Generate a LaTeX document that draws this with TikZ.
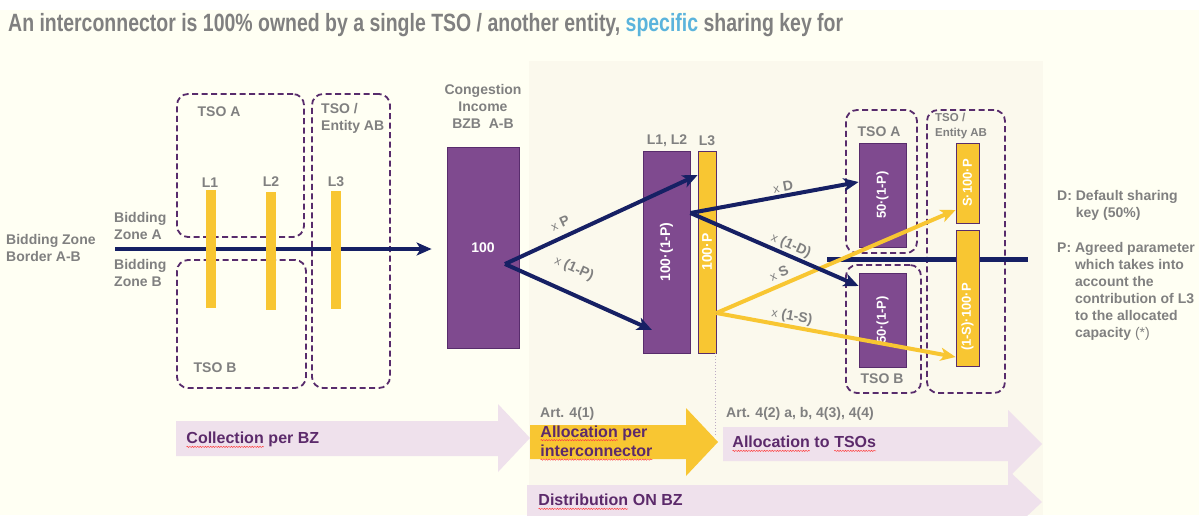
\documentclass[tikz,border=0pt]{standalone}
\usepackage{fontspec}
\setmainfont{Liberation Sans}
\usepackage{graphicx}
\usetikzlibrary{arrows.meta,decorations.pathmorphing}
\definecolor{nvblue}{RGB}{22,32,100}
\definecolor{ppfill}{RGB}{127,74,143}
\definecolor{ppdark}{RGB}{88,44,108}
\definecolor{yyel}{RGB}{248,198,50}
\definecolor{gtxt}{RGB}{128,128,128}
\definecolor{lvarrow}{RGB}{239,225,236}
\definecolor{pptxt}{RGB}{92,42,107}
\definecolor{cybl}{RGB}{91,180,220}
\definecolor{crbg}{RGB}{255,255,243}
\definecolor{pnbg}{RGB}{251,249,237}
\newcommand\spchk[1]{\tikz[baseline=(w.base)]{\node[inner sep=0pt, outer sep=0pt, font=, anchor=base] (w) {#1};
  \draw[red!75, line width=0.5pt, decorate, decoration={snake, amplitude=0.6pt, segment length=2.6pt}] ([yshift=-3pt]w.base west) -- ([yshift=-3pt]w.base east);}}
\tikzset{
  lbl/.style={text=gtxt, inner sep=0pt},
  tsobox/.style={draw=ppdark, line width=1.8pt, dash pattern=on 6pt off 3.5pt, rounded corners=11pt, inner sep=0pt},
  ppbox/.style={fill=ppfill, draw=ppdark, line width=0.8pt, inner sep=0pt, text=white},
  ybox/.style={fill=yyel, draw=ppdark, line width=0.8pt, inner sep=0pt, text=white},
  lbar/.style={fill=yyel, inner sep=0pt, minimum width=10, minimum height=118},
  nflow/.style={draw=nvblue, line width=4pt, -{Stealth[length=15pt,width=13pt,inset=4pt]}},
  yflow/.style={draw=yyel, line width=4pt, -{Stealth[length=15pt,width=13pt,inset=4pt]}},
  steptxt/.style={text=pptxt, inner sep=0pt, anchor=west, align=left, font=\fontsize{16}{19.5}\selectfont\bfseries}
}

\begin{document}
\begin{tikzpicture}[line cap=butt,line join=miter,x=1pt,y=-1pt,font=\fontsize{14}{17}\selectfont\bfseries]
    \useasboundingbox (0,0) rectangle (1199,515);
    \clip (0,0) rectangle (1199,515);
    \fill[crbg] (0,10) rectangle (1199,515);
    \fill[pnbg] (529,61) rectangle (1043,515);
    \node[lbl, anchor=base west] (title) at (8,31) {\resizebox{835pt}{\height}{\fontsize{25}{25}\selectfont\bfseries An interconnector is 100\% owned by a single TSO / another entity, \textcolor{cybl}{specific} sharing key for}};

    % bidding zone border
    \node[lbl, anchor=west, align=left] (bzb) at (6,248) {Bidding Zone\\Border A-B};
    \node[lbl, anchor=west, align=left] (bza) at (114,225.5) {Bidding\\Zone A};
    \node[lbl, anchor=west, align=left] (bzbb) at (114,273) {Bidding\\Zone B};
    \node[tsobox, minimum width=127, minimum height=143] (tsoal) at (240.5,165.5) {};
    \node[tsobox, minimum width=129, minimum height=128] (tsobl) at (241.5,324) {};
    \node[tsobox, minimum width=78, minimum height=294] (entl) at (351,241) {};
    \node[lbl] (tsoalt) at (219,112) {TSO A};
    \node[lbl] (tsoblt) at (215,368) {TSO B};
    \node[lbl, anchor=west, align=left] (entlt) at (321,118.5) {TSO /\\Entity AB};
    \node[ppbox, minimum width=72, minimum height=201] (cong) at (483,247.5) {100};
    \coordinate (bzs) at (115,249);
    \draw[nflow, shorten >=15pt] (bzs) -- (bzs -| cong.west);
    \node[lbar] (l1) at (210.5,249) {};
    \node[lbar] (l2) at (271,251) {};
    \node[lbar] (l3) at (336,250) {};
    \node[lbl] (l1t) at (210,183) {L1};
    \node[lbl] (l2t) at (271,182) {L2};
    \node[lbl] (l3t) at (336,182) {L3};

    % congestion income split
    \node[lbl, align=center] (congt) at (483,106) {Congestion\\Income\\BZB\ \ A-B};
    \node[ppbox, minimum width=47, minimum height=202] (l12) at (666.5,252) {\rotatebox{90}{100·(1-P)}};
    \node[ybox, minimum width=18, minimum height=202] (l3s) at (707,252) {\rotatebox{90}{100·P}};
    \node[lbl] (l12t) at (667,141) {L1, L2};
    \node[lbl] (l3st) at (707,141) {L3};
    \coordinate (dotend) at (715,436);
    \draw[ppdark!40, dotted, line width=1pt] (l3s.south -| dotend) -- (dotend);

    % allocation to TSOs
    \node[tsobox, minimum width=71, minimum height=143] (tsoar) at (881.5,181.5) {};
    \node[tsobox, minimum width=75, minimum height=128] (tsobr) at (883.5,329) {};
    \node[tsobox, minimum width=78, minimum height=283] (entr) at (966,251.5) {};
    \node[lbl] (tsoart) at (879,132) {TSO A};
    \node[lbl] (tsobrt) at (882,379) {TSO B};
    \node[lbl, anchor=west, align=left, font=\fontsize{11.5}{15}\selectfont\bfseries] (entrt) at (935,126.5) {TSO /\\Entity AB};
    \node[ppbox, minimum width=47, minimum height=104, font=\fontsize{13}{15}\selectfont\bfseries] (tsoa) at (882.5,195) {\rotatebox{90}{50·(1-P)}};
    \node[ppbox, minimum width=47, minimum height=94, font=\fontsize{13}{15}\selectfont\bfseries] (tsob) at (882.5,320) {\rotatebox{90}{50·(1-P)}};
    \coordinate (bzr0) at (827,259);
    \coordinate (bzr1) at (1028,259);
    \draw[nvblue, line width=5pt] (bzr0) -- (bzr1);
    \node[ybox, minimum width=23, minimum height=80, font=\fontsize{13}{15}\selectfont\bfseries] (sbox) at (967.5,183) {\rotatebox{90}{S·100·P}};
    \node[ybox, minimum width=23, minimum height=136] (s1box) at (967.5,298) {};
    \node[text=white, inner sep=0pt, font=\fontsize{13}{15}\selectfont\bfseries] (s1t) at (967.5,317) {\rotatebox{90}{(1-S)·100·P}};

    \coordinate (splitp) at (505,264);
    \coordinate (p1in) at (652,330);
    \draw[nflow] (splitp) -- (l3s.west |- 0,175);
    \draw[nflow] (splitp) -- (p1in);
    \draw[yflow] ([yshift=-61pt]l3s.east) -- ([yshift=-27pt]sbox.west);
    \draw[yflow] ([yshift=-61pt]l3s.east) -- ([yshift=-59pt]s1box.west);
    \draw[nflow] ([yshift=39pt]l12.east) -- ([yshift=13pt]tsoa.west);
    \draw[nflow] ([yshift=39pt]l12.east) -- ([yshift=34pt]tsob.west);
    \node[lbl, rotate=25] (lxp) at (560,223) {{\fontsize{12}{12}\selectfont\mdseries x} P};
    \node[lbl, rotate=-24] (lx1p) at (574,269) {{\fontsize{12}{12}\selectfont\mdseries x} (1-P)};
    \node[lbl, rotate=10.6] (lxd) at (783,187) {{\fontsize{12}{12}\selectfont\mdseries x} D};
    \node[lbl, rotate=-24] (lx1d) at (791,246) {{\fontsize{12}{12}\selectfont\mdseries x} (1-D)};
    \node[lbl, rotate=23.6] (lxs) at (779,273) {{\fontsize{12}{12}\selectfont\mdseries x} S};
    \node[lbl, rotate=-10.5] (lx1s) at (792,317) {{\fontsize{12}{12}\selectfont\mdseries x} (1-S)};

    % keys
    \node[lbl, anchor=base west] (keyd) at (1057,200) {\begin{tabular}[t]{@{}l@{ }l@{}}D:&Default sharing\\&key (50\%)\end{tabular}};
    \node[lbl, anchor=base west] (keyp) at (1057,252) {\begin{tabular}[t]{@{}l@{ }l@{}}P:&Agreed parameter\\&which takes into\\&account the\\&contribution of L3\\&to the allocated\\&capacity {\mdseries(*)}\end{tabular}};

    % process arrows
    \fill[lvarrow] (176,421) -- (498,421) -- (498,404) -- (530,438) -- (498,472) -- (498,456) -- (176,456) -- cycle;
    \fill[lvarrow] (527,485) -- (1008,485) -- (1008,470) -- (1042,502) -- (1008,534) -- (1008,519) -- (527,519) -- cycle;
    \fill[lvarrow] (723,427) -- (1008,427) -- (1008,410) -- (1042,444) -- (1008,478) -- (1008,461) -- (723,461) -- cycle;
    \fill[yyel] (530,425) -- (686,425) -- (686,408) -- (718,442) -- (686,476) -- (686,459) -- (530,459) -- cycle;
    \node[steptxt] (colt) at (186,440) {\spchk{Collection} per BZ};
    \node[steptxt] (allict) at (540,443) {\spchk{Allocation} per\\\spchk{interconnector}};
    \node[lbl, anchor=west] (art41) at (540,414) {Art. 4(1)};
    \node[lbl, anchor=west] (art42) at (726,414) {Art. 4(2) a, b, 4(3), 4(4)};
    \node[steptxt] (alltt) at (732,444) {\spchk{Allocation} to \spchk{TSOs}};
    \node[steptxt] (distt) at (538,502) {\spchk{Distribution} ON BZ};
\end{tikzpicture}
\end{document}
